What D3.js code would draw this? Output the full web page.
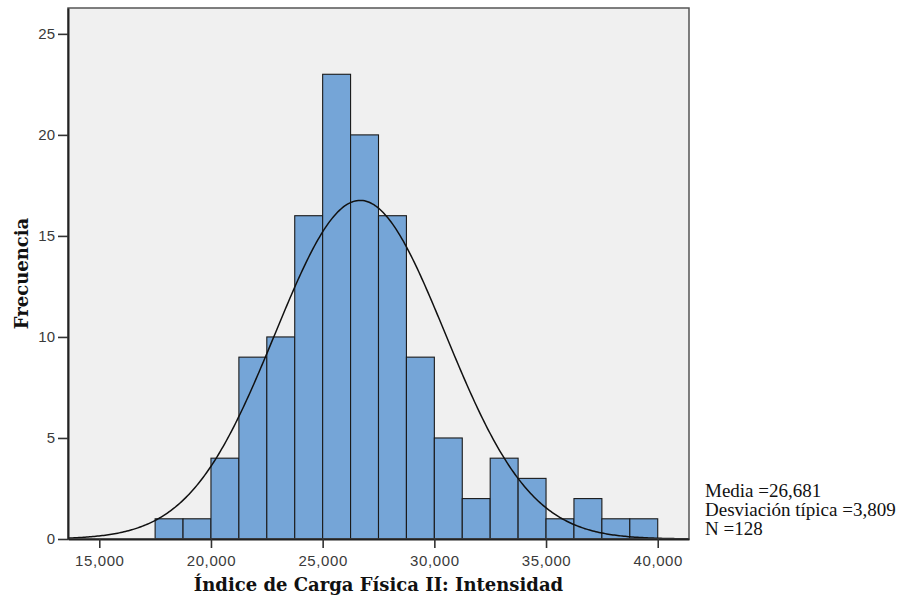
<!DOCTYPE html>
<html>
<head>
<meta charset="utf-8">
<script src="https://cdn.jsdelivr.net/npm/d3@7"></script>
<style>
  html, body { margin: 0; padding: 0; background: #fff; }
  svg { display: block; }
</style>
</head>
<body>
<svg id="chart" width="902" height="605"></svg>
<script>
// Histogram bins (lower edge of each bin) and observed frequencies
const binStarts = [17.5, 18.75, 20, 21.25, 22.5, 23.75, 25, 26.25, 27.5, 28.75, 30, 31.25, 32.5, 33.75, 35, 36.25, 37.5, 38.75];
const binWidth = 1.25;
const counts = [1, 1, 4, 9, 10, 16, 23, 20, 16, 9, 5, 2, 4, 3, 1, 2, 1, 1];

// Axis ticks
const xTicks = [15, 20, 25, 30, 35, 40];
const yTicks = [0, 5, 10, 15, 20, 25];

// Summary statistics shown beside the chart
const mean = 26.681;
const sd = 3.809;
const n = 128;
const statLines = ["Media =26,681", "Desviación típica =3,809", "N =128"];

const xTitle = "Índice de Carga Física II: Intensidad";
const yTitle = "Frecuencia";

const svg = d3.select("#chart");
const plot = { left: 68, top: 8, right: 689, bottom: 539 };

const x = d3.scaleLinear().domain([13.6, 41.4]).range([plot.left, plot.right]);
const y = d3.scaleLinear().domain([0, 26.28]).range([plot.bottom, plot.top]);

const fmt = v => d3.format(".3f")(v).replace(".", ",");

// Plot background
svg.append("rect")
  .attr("x", plot.left).attr("y", plot.top)
  .attr("width", plot.right - plot.left).attr("height", plot.bottom - plot.top)
  .attr("fill", "#f0f0f0");

// Bars
svg.append("g").selectAll("rect")
  .data(counts.map((c, i) => ({ x0: binStarts[i], x1: binStarts[i] + binWidth, c })))
  .join("rect")
  .attr("x", d => x(d.x0))
  .attr("y", d => y(d.c))
  .attr("width", d => x(d.x1) - x(d.x0))
  .attr("height", d => y(0) - y(d.c))
  .attr("fill", "#75a5d7")
  .attr("stroke", "#1a1a1a")
  .attr("stroke-width", 1.1);

// Fitted normal curve scaled to counts
const scale = n * binWidth;
const pdf = v => scale * Math.exp(-0.5 * ((v - mean) / sd) ** 2) / (sd * Math.sqrt(2 * Math.PI));
const curvePts = d3.range(0, 401).map(i => {
  const v = x.domain()[0] + (x.domain()[1] - x.domain()[0]) * i / 400;
  return [v, pdf(v)];
});
svg.append("path")
  .datum(curvePts)
  .attr("fill", "none")
  .attr("stroke", "#111")
  .attr("stroke-width", 1.5)
  .attr("d", d3.line().x(d => x(d[0])).y(d => y(d[1])));

// Plot frame
svg.append("rect")
  .attr("x", plot.left).attr("y", plot.top)
  .attr("width", plot.right - plot.left).attr("height", plot.bottom - plot.top)
  .attr("fill", "none")
  .attr("stroke", "#555")
  .attr("stroke-width", 1.5);

// Axes
const xAxis = svg.append("g")
  .attr("transform", `translate(0,${plot.bottom})`)
  .call(d3.axisBottom(x).tickValues(xTicks).tickFormat(fmt).tickSize(9).tickSizeOuter(0).tickPadding(7));
const yAxis = svg.append("g")
  .attr("transform", `translate(${plot.left},0)`)
  .call(d3.axisLeft(y).tickValues(yTicks).tickSize(10).tickSizeOuter(0).tickPadding(3));

[xAxis, yAxis].forEach(g => {
  g.select(".domain").attr("stroke", "#222").attr("stroke-width", 2);
  g.selectAll(".tick line").attr("stroke", "#333").attr("stroke-width", 1.6);
  g.selectAll(".tick text")
    .attr("fill", "#3a3a3a")
    .style("font-family", "'Liberation Sans', Arial, sans-serif")
    .style("font-size", "15px");
});
xAxis.selectAll(".tick text").style("letter-spacing", "0.6px");

// Axis titles
svg.append("text")
  .attr("x", (plot.left + plot.right) / 2)
  .attr("y", 591)
  .attr("text-anchor", "middle")
  .style("font-family", "'DejaVu Serif', serif")
  .style("font-weight", "bold")
  .style("font-size", "18px")
  .attr("fill", "#111")
  .text(xTitle);

svg.append("text")
  .attr("transform", `translate(28,${(plot.top + plot.bottom) / 2}) rotate(-90)`)
  .attr("text-anchor", "middle")
  .style("font-family", "'DejaVu Serif', serif")
  .style("font-weight", "bold")
  .style("font-size", "18px")
  .attr("fill", "#111")
  .text(yTitle);

// Statistics block
svg.append("g").selectAll("text")
  .data(statLines)
  .join("text")
  .attr("x", 705)
  .attr("y", (d, i) => 497 + i * 19)
  .style("font-family", "'Liberation Serif', 'Times New Roman', serif")
  .style("font-size", "19px")
  .attr("fill", "#111")
  .text(d => d);
</script>
</body>
</html>
